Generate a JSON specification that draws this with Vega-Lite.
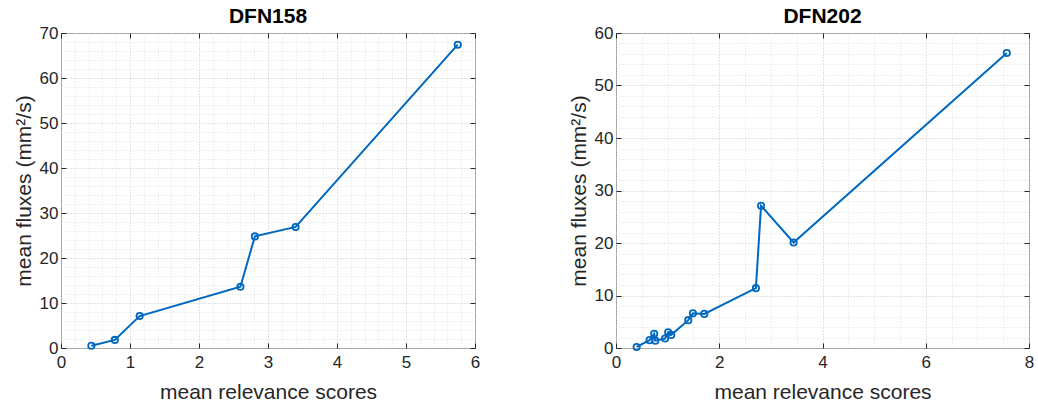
{
  "$schema": "https://vega.github.io/schema/vega-lite/v6.json",
  "background": "white",
  "padding": {"left": 12, "top": 5, "right": 5, "bottom": 5},
  "config": {
    "font": "Liberation Sans",
    "view": {"stroke": "#9a9a9a", "strokeWidth": 1},
    "axis": {
      "labelFont": "Liberation Sans",
      "titleFont": "Liberation Sans",
      "labelFontSize": 17,
      "titleFontSize": 21,
      "titleFontWeight": "normal",
      "labelColor": "#262626",
      "titleColor": "#262626",
      "domain": false,
      "labelOverlap": false,
      "labelFlush": false,
      "tickColor": "#262626",
      "gridDash": [1, 2],
      "gridWidth": 1
    },
    "title": {"font": "Liberation Sans", "fontSize": 21, "fontWeight": "bold", "color": "#000000", "offset": -3}
  },
  "datasets": {
    "dfn158": [
      {"score": 0.44, "flux": 0.5},
      {"score": 0.78, "flux": 1.8},
      {"score": 1.14, "flux": 7.1},
      {"score": 2.60, "flux": 13.6},
      {"score": 2.81, "flux": 24.8},
      {"score": 3.40, "flux": 26.9},
      {"score": 5.75, "flux": 67.4}
    ],
    "dfn202": [
      {"score": 0.40, "flux": 0.2},
      {"score": 0.65, "flux": 1.5},
      {"score": 0.74, "flux": 2.7},
      {"score": 0.76, "flux": 1.4},
      {"score": 0.95, "flux": 1.8},
      {"score": 1.01, "flux": 3.0},
      {"score": 1.07, "flux": 2.5},
      {"score": 1.40, "flux": 5.3},
      {"score": 1.49, "flux": 6.6},
      {"score": 1.71, "flux": 6.5},
      {"score": 2.71, "flux": 11.4},
      {"score": 2.81, "flux": 27.1},
      {"score": 3.44, "flux": 20.1},
      {"score": 7.57, "flux": 56.2}
    ]
  },
  "spacing": 141,
  "bounds": "flush",
  "hconcat": [
    {
      "width": 414,
      "height": 315,
      "title": "DFN158",
      "data": {"name": "dfn158"},
      "layer": [
        {
          "mark": {"type": "line", "color": "#0068C0", "strokeWidth": 2},
          "encoding": {
            "x": {"field": "score", "type": "quantitative", "scale": {"domain": [0, 6], "nice": false, "zero": false},
              "axis": {"title": "mean relevance scores", "orient": "bottom",
                "values": [0,0.2,0.4,0.6,0.8,1,1.2,1.4,1.6,1.8,2,2.2,2.4,2.6,2.8,3,3.2,3.4,3.6,3.8,4,4.2,4.4,4.6,4.8,5,5.2,5.4,5.6,5.8,6],
                "labelExpr": "datum.value % 1 === 0 ? format(datum.value, 'd') : ''",
                "ticks": true, "tickSize": -5,
                "tickOpacity": {"condition": {"test": "datum.value % 1 === 0", "value": 1}, "value": 0},
                "gridColor": {"condition": {"test": "datum.value % 1 === 0", "value": "#c4c4c4"}, "value": "#e0e0e0"},
                "labelPadding": 11, "titlePadding": 11}},
            "y": {"field": "flux", "type": "quantitative", "scale": {"domain": [0, 70], "nice": false},
              "axis": {"title": "mean fluxes (mm²/s)", "orient": "left",
                "values": [0,2,4,6,8,10,12,14,16,18,20,22,24,26,28,30,32,34,36,38,40,42,44,46,48,50,52,54,56,58,60,62,64,66,68,70],
                "labelExpr": "datum.value % 10 === 0 ? format(datum.value, 'd') : ''",
                "ticks": true, "tickSize": -5,
                "tickOpacity": {"condition": {"test": "datum.value % 10 === 0", "value": 1}, "value": 0},
                "gridColor": {"condition": {"test": "datum.value % 10 === 0", "value": "#c4c4c4"}, "value": "#e0e0e0"},
                "labelPadding": 8, "titlePadding": 5}}
          }
        },
        {
          "mark": {"type": "point", "shape": "circle", "filled": false, "color": "#0068C0", "size": 40, "strokeWidth": 1.8, "opacity": 1},
          "encoding": {
            "x": {"field": "score", "type": "quantitative", "scale": {"domain": [0, 6], "nice": false, "zero": false},
              "axis": {"orient": "top", "title": null, "labels": false, "grid": false, "values": [0,1,2,3,4,5,6], "ticks": true, "tickSize": -5}},
            "y": {"field": "flux", "type": "quantitative", "scale": {"domain": [0, 70], "nice": false},
              "axis": {"orient": "right", "title": null, "labels": false, "grid": false, "values": [0,10,20,30,40,50,60,70], "ticks": true, "tickSize": -5}}
          }
        }
      ],
      "resolve": {"axis": {"x": "independent", "y": "independent"}}
    },
    {
      "width": 413,
      "height": 315,
      "title": "DFN202",
      "data": {"name": "dfn202"},
      "layer": [
        {
          "mark": {"type": "line", "color": "#0068C0", "strokeWidth": 2},
          "encoding": {
            "x": {"field": "score", "type": "quantitative", "scale": {"domain": [0, 8], "nice": false, "zero": false},
              "axis": {"title": "mean relevance scores", "orient": "bottom",
                "values": [0,0.5,1,1.5,2,2.5,3,3.5,4,4.5,5,5.5,6,6.5,7,7.5,8],
                "labelExpr": "datum.value % 2 === 0 ? format(datum.value, 'd') : ''",
                "ticks": true, "tickSize": -5,
                "tickOpacity": {"condition": {"test": "datum.value % 2 === 0", "value": 1}, "value": 0},
                "gridColor": {"condition": {"test": "datum.value % 2 === 0", "value": "#c4c4c4"}, "value": "#e0e0e0"},
                "labelPadding": 11, "titlePadding": 11}},
            "y": {"field": "flux", "type": "quantitative", "scale": {"domain": [0, 60], "nice": false},
              "axis": {"title": "mean fluxes (mm²/s)", "orient": "left",
                "values": [0,2,4,6,8,10,12,14,16,18,20,22,24,26,28,30,32,34,36,38,40,42,44,46,48,50,52,54,56,58,60],
                "labelExpr": "datum.value % 10 === 0 ? format(datum.value, 'd') : ''",
                "ticks": true, "tickSize": -5,
                "tickOpacity": {"condition": {"test": "datum.value % 10 === 0", "value": 1}, "value": 0},
                "gridColor": {"condition": {"test": "datum.value % 10 === 0", "value": "#c4c4c4"}, "value": "#e0e0e0"},
                "labelPadding": 8, "titlePadding": 5}}
          }
        },
        {
          "mark": {"type": "point", "shape": "circle", "filled": false, "color": "#0068C0", "size": 40, "strokeWidth": 1.8, "opacity": 1},
          "encoding": {
            "x": {"field": "score", "type": "quantitative", "scale": {"domain": [0, 8], "nice": false, "zero": false},
              "axis": {"orient": "top", "title": null, "labels": false, "grid": false, "values": [0,2,4,6,8], "ticks": true, "tickSize": -5}},
            "y": {"field": "flux", "type": "quantitative", "scale": {"domain": [0, 60], "nice": false},
              "axis": {"orient": "right", "title": null, "labels": false, "grid": false, "values": [0,10,20,30,40,50,60], "ticks": true, "tickSize": -5}}
          }
        }
      ],
      "resolve": {"axis": {"x": "independent", "y": "independent"}}
    }
  ]
}
